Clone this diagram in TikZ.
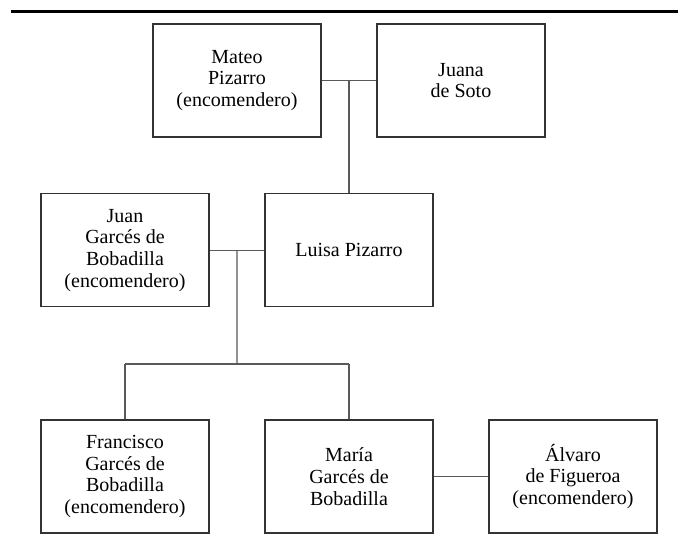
\documentclass[tikz,border=0pt]{standalone}
\usepackage{fontspec}
\setmainfont{Liberation Serif}
\usetikzlibrary{calc}
\begin{document}
\begin{tikzpicture}[x=1pt,y=1pt,
  person/.style={draw=black!80, line width=1.1pt, rectangle, minimum width=168pt, minimum height=113pt,
    align=center, font=\fontsize{20}{21.7}\selectfont, inner sep=2pt},
  link/.style={draw=black!65, line width=1.1pt}]
\useasboundingbox (0,0) rectangle (678,545);
\draw[line width=2.6pt] (11,533.7) -- (678,533.7);
\node[person] (mateo) at (237,464.5) {Mateo\\Pizarro\\(encomendero)};
\node[person] (juana) at (461,464.5) {Juana\\de Soto};
\node[person] (juan) at (125,294.7) {Juan\\Garcés de\\Bobadilla\\(encomendero)};
\node[person] (luisa) at (349,294.7) {Luisa Pizarro};
\node[person] (francisco) at (125,68.5) {Francisco\\Garcés de\\Bobadilla\\(encomendero)};
\node[person] (maria) at (349,68.5) {María\\Garcés de\\Bobadilla};
\node[person] (alvaro) at (573,68.5) {Álvaro\\de Figueroa\\(encomendero)};
\coordinate (m1) at ($(mateo.east)!0.5!(juana.west)$);
\coordinate (m2) at ($(juan.east)!0.5!(luisa.west)$);
\coordinate (bar) at (237,181);
\draw[link] (mateo.east) -- (juana.west);
\draw[link] (m1) -- (m1 |- luisa.north);
\draw[link] (juan.east) -- (luisa.west);
\draw[link] (m2) -- (bar);
\draw[link] (francisco.north |- bar) -- (maria.north |- bar);
\draw[link] (francisco.north |- bar) -- (francisco.north);
\draw[link] (maria.north |- bar) -- (maria.north);
\draw[link] (maria.east) -- (alvaro.west);
\end{tikzpicture}
\end{document}
